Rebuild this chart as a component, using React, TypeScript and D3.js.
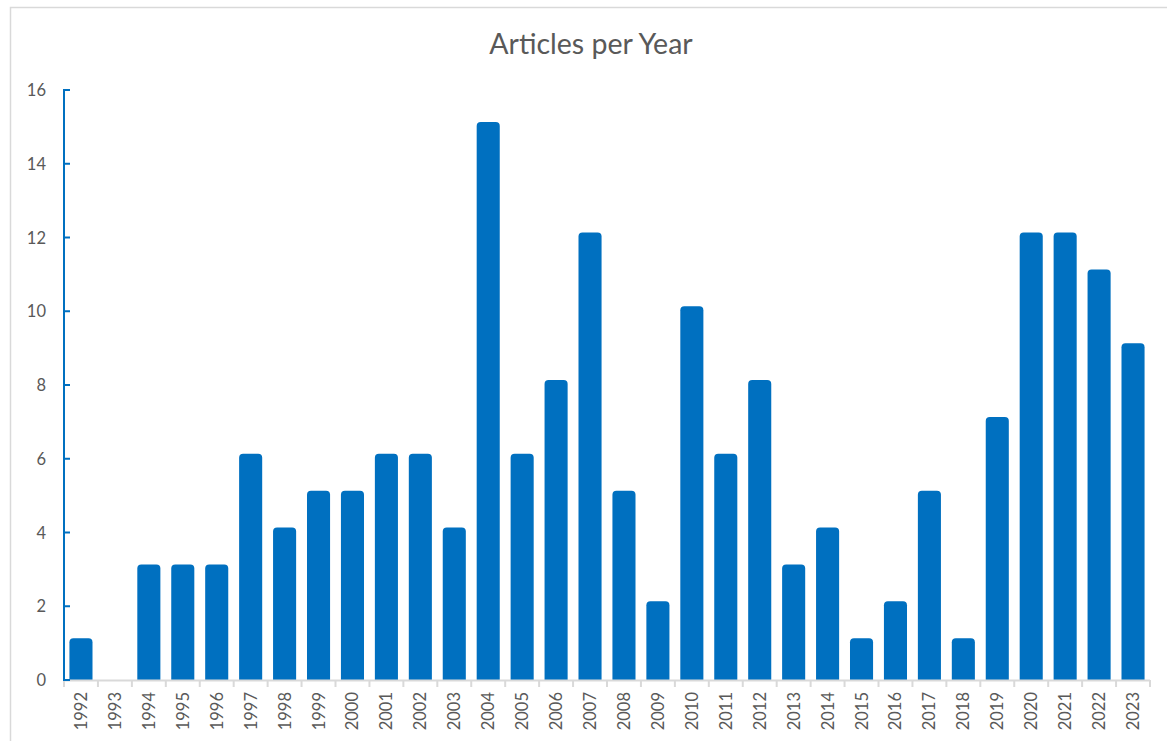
import React from "react";
import * as d3 from "d3";

const years = ["1992","1993","1994","1995","1996","1997","1998","1999","2000","2001","2002","2003","2004","2005","2006","2007","2008","2009","2010","2011","2012","2013","2014","2015","2016","2017","2018","2019","2020","2021","2022","2023"];
const articles = [1,0,3,3,3,6,4,5,5,6,6,4,15,6,8,12,5,2,10,6,8,3,4,1,2,5,1,7,12,12,11,9];
const yTicks = [0,2,4,6,8,10,12,14,16];
const title = "Articles per Year";

const W = 1167, H = 741;
const FONT = "Lato, 'Open Sans', sans-serif";
const BLUE = "#0070C0";
const TXT = "#595959";

export default function App() {
  const x = d3.scaleBand<string>().domain(years).range([64, 1150]).paddingInner(0.32).paddingOuter(0.16);
  const y = d3.scaleLinear().domain([0, 16]).range([680, 90]);
  const step = x.step();
  const r = 4;
  const lift = 5;
  const barPath = (x0: number, w: number, yTop: number, yBot: number) => {
    const p = d3.path();
    p.moveTo(x0, yBot);
    p.lineTo(x0, yTop + r);
    p.quadraticCurveTo(x0, yTop, x0 + r, yTop);
    p.lineTo(x0 + w - r, yTop);
    p.quadraticCurveTo(x0 + w, yTop, x0 + w, yTop + r);
    p.lineTo(x0 + w, yBot);
    p.closePath();
    return p.toString();
  };
  return (
    <div style={{ position: "absolute", left: 0, top: 0 }}>
      <svg width={W} height={H} style={{ display: "block", background: "#fff" }}>
        <rect x={10.5} y={7.5} width={W + 10} height={H + 10} fill="#fff" stroke="#d9d9d9" strokeWidth={1.5} />
        <text x={591} y={54} textAnchor="middle" fontFamily={FONT} fontSize={28.5} fill={TXT}>{title}</text>
        {/* bars */}
        {years.map((yr, i) => {
          const v = articles[i];
          if (v <= 0) return null;
          return <path key={yr} d={barPath(x(yr)!, x.bandwidth(), y(v) - lift, y(0))} fill={BLUE} />;
        })}
        {/* x axis */}
        <line x1={64} x2={1150} y1={680.5} y2={680.5} stroke="#d9d9d9" strokeWidth={2} />
        {years.map((yr) => {
          const bx = (x(yr)! - (step - x.bandwidth()) / 2);
          return <line key={"t" + yr} x1={bx} x2={bx} y1={680} y2={687} stroke="#d9d9d9" strokeWidth={2} />;
        })}
        <line x1={1150} x2={1150} y1={680} y2={687} stroke="#d9d9d9" strokeWidth={2} />
        {years.map((yr) => {
          const cx = x(yr)! + x.bandwidth() / 2;
          return (
            <text key={"l" + yr} transform={`translate(${cx + 6},${692}) rotate(-90)`} textAnchor="end" fontFamily={FONT} fontSize={16.5} fill={TXT}>{yr}</text>
          );
        })}
        {/* y axis */}
        <line x1={64} x2={64} y1={y(16) - 1} y2={y(0) + 1} stroke={BLUE} strokeWidth={2} />
        {yTicks.map((t) => (
          <g key={"y" + t}>
            <line x1={64} x2={70} y1={y(t)} y2={y(t)} stroke={BLUE} strokeWidth={2} />
            <text x={46} y={y(t) + 6} textAnchor="end" fontFamily={FONT} fontSize={16.5} fill={TXT}>{t}</text>
          </g>
        ))}
      </svg>
    </div>
  );
}
